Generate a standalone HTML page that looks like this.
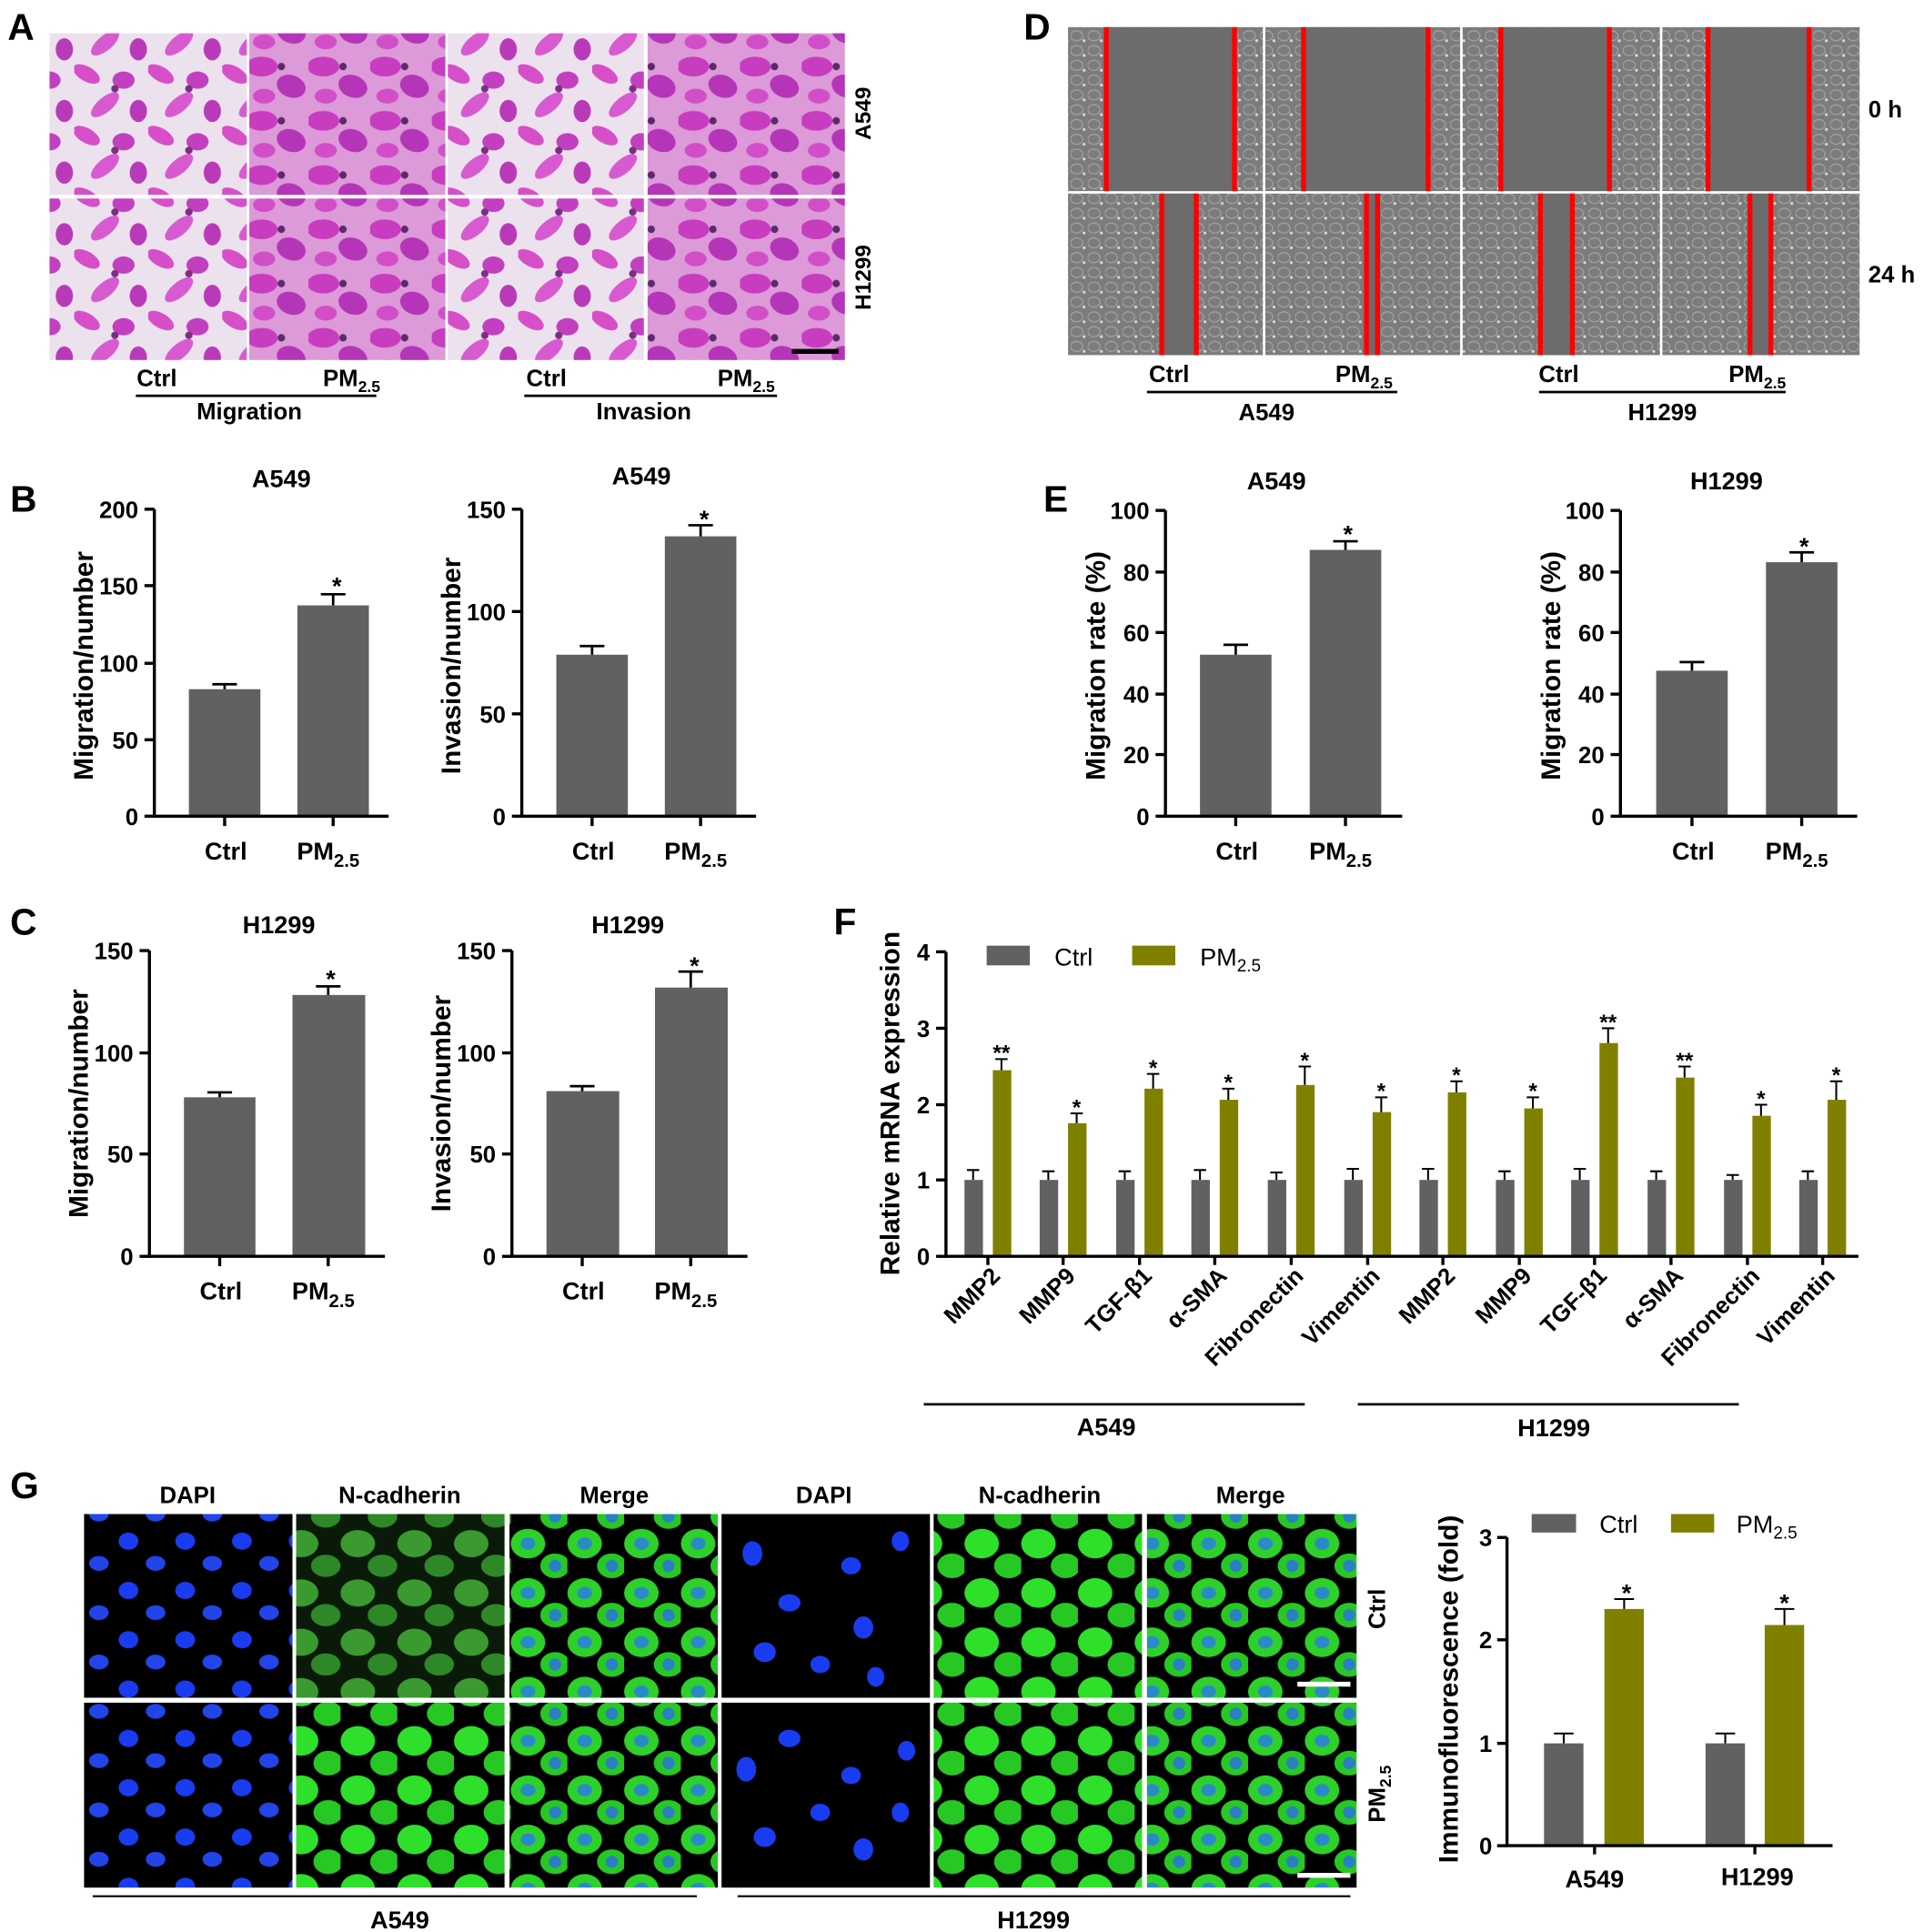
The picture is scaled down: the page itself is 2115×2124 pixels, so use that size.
<!DOCTYPE html>
<html><head><meta charset="utf-8"><style>html,body{margin:0;padding:0;background:#fff}svg{display:block}text{font-family:"Liberation Sans",Arial,sans-serif;font-weight:bold;fill:#000}</style></head><body>
<svg width="2115" height="2124" viewBox="0 0 1560 1567" xmlns="http://www.w3.org/2000/svg">
<defs>
<pattern id="pink" width="60" height="50" patternUnits="userSpaceOnUse">
<rect width="60" height="50" fill="#ece2ee"/>
<ellipse cx="10" cy="10" rx="12" ry="6" fill="#d64fc8" transform="rotate(30 10 10)"/>
<ellipse cx="40" cy="15" rx="9" ry="7" fill="#c23fbf"/>
<ellipse cx="25" cy="35" rx="14" ry="6" fill="#d85ad0" transform="rotate(-40 25 35)"/>
<ellipse cx="52" cy="40" rx="7" ry="9" fill="#b93ab8"/>
<circle cx="33" cy="22" r="3" fill="#7a3080"/>
</pattern>
<pattern id="pink2" width="50" height="44" patternUnits="userSpaceOnUse">
<rect width="50" height="44" fill="#dc9ad8"/>
<ellipse cx="12" cy="10" rx="13" ry="8" fill="#c83cc0"/>
<ellipse cx="36" cy="26" rx="12" ry="9" fill="#b535b8" transform="rotate(20 36 26)"/>
<ellipse cx="14" cy="34" rx="9" ry="6" fill="#d24ec8"/>
<circle cx="28" cy="10" r="3" fill="#5a2a6a"/>
</pattern>
<pattern id="gray" width="14" height="12" patternUnits="userSpaceOnUse">
<rect width="14" height="12" fill="#7c7c7c"/>
<ellipse cx="5" cy="5" rx="5" ry="4" fill="none" stroke="#a0a0a0" stroke-width="1"/>
<circle cx="11" cy="9" r="1.2" fill="#d8d8d8"/>
</pattern>
<pattern id="dapi" width="46" height="40" patternUnits="userSpaceOnUse">
<rect width="46" height="40" fill="#000"/>
<ellipse cx="12" cy="10" rx="8" ry="7" fill="#1a3cf0"/>
<ellipse cx="34" cy="28" rx="8" ry="6" fill="#2244e8"/>
</pattern>
<pattern id="ncad" width="46" height="40" patternUnits="userSpaceOnUse">
<rect width="46" height="40" fill="#0a1a08"/>
<ellipse cx="14" cy="12" rx="14" ry="11" fill="#3a9a30"/>
<ellipse cx="34" cy="30" rx="12" ry="9" fill="#2e8828"/>
</pattern>
<pattern id="ncadH" width="46" height="40" patternUnits="userSpaceOnUse">
<rect width="46" height="40" fill="#000"/>
<ellipse cx="14" cy="12" rx="14" ry="12" fill="#2ee02a"/>
<ellipse cx="36" cy="30" rx="12" ry="10" fill="#28c824"/>
</pattern>
<pattern id="merge" width="46" height="40" patternUnits="userSpaceOnUse">
<rect width="46" height="40" fill="#000"/>
<ellipse cx="14" cy="12" rx="14" ry="12" fill="#2ed02a"/>
<ellipse cx="14" cy="12" rx="6" ry="5" fill="#2a8ac8"/>
<ellipse cx="36" cy="30" rx="12" ry="10" fill="#28c824"/>
<ellipse cx="36" cy="30" rx="5" ry="5" fill="#2a80c0"/>
</pattern>
</defs>

<!-- Panel A -->
<text x="6" y="32" font-size="30">A</text>
<rect x="40" y="27" width="160" height="131" fill="url(#pink)"/>
<rect x="202" y="27" width="159" height="131" fill="url(#pink2)"/>
<rect x="363" y="27" width="159" height="131" fill="url(#pink)"/>
<rect x="525" y="27" width="160" height="131" fill="url(#pink2)"/>
<rect x="40" y="161" width="160" height="131" fill="url(#pink)"/>
<rect x="202" y="161" width="159" height="131" fill="url(#pink2)"/>
<rect x="363" y="161" width="159" height="131" fill="url(#pink)"/>
<rect x="525" y="161" width="160" height="131" fill="url(#pink2)"/>
<line x1="642" y1="285" x2="680" y2="285" stroke="#000" stroke-width="4"/>
<text font-size="18" transform="translate(706,92) rotate(-90)" text-anchor="middle">A549</text>
<text font-size="18" transform="translate(706,225) rotate(-90)" text-anchor="middle">H1299</text>
<text x="127" y="313" font-size="19" text-anchor="middle">Ctrl</text>
<text x="285" y="313" font-size="19" text-anchor="middle">PM<tspan font-size="13" dy="5">2.5</tspan></text>
<line x1="110" y1="321" x2="305" y2="321" stroke="#000" stroke-width="2"/>
<text x="202" y="340" font-size="19" text-anchor="middle">Migration</text>
<text x="443" y="313" font-size="19" text-anchor="middle">Ctrl</text>
<text x="605" y="313" font-size="19" text-anchor="middle">PM<tspan font-size="13" dy="5">2.5</tspan></text>
<line x1="425" y1="321" x2="630" y2="321" stroke="#000" stroke-width="2"/>
<text x="522" y="340" font-size="19" text-anchor="middle">Invasion</text>

<!-- Panel D -->
<text x="830" y="32" font-size="30">D</text>
<g>
<rect x="866" y="22" width="158" height="133" fill="url(#gray)"/>
<rect x="1026" y="22" width="158" height="133" fill="url(#gray)"/>
<rect x="1186" y="22" width="160" height="133" fill="url(#gray)"/>
<rect x="1348" y="22" width="160" height="133" fill="url(#gray)"/>
<rect x="897" y="22" width="104" height="133" fill="#6c6c6c"/>
<rect x="1057" y="22" width="101" height="133" fill="#6c6c6c"/>
<rect x="1217" y="22" width="88" height="133" fill="#6c6c6c"/>
<rect x="1385" y="22" width="82" height="133" fill="#6c6c6c"/>
<rect x="866" y="157" width="158" height="131" fill="url(#gray)"/>
<rect x="1026" y="157" width="158" height="131" fill="url(#gray)"/>
<rect x="1186" y="157" width="160" height="131" fill="url(#gray)"/>
<rect x="1348" y="157" width="160" height="131" fill="url(#gray)"/>
<rect x="942" y="157" width="28" height="131" fill="#6c6c6c"/>
<rect x="1108" y="157" width="9" height="131" fill="#6c6c6c"/>
<rect x="1249" y="157" width="26" height="131" fill="#6c6c6c"/>
<rect x="1419" y="157" width="17" height="131" fill="#6c6c6c"/>
<g stroke="#f00" stroke-width="4">
<line x1="897" y1="22" x2="897" y2="155"/><line x1="1001" y1="22" x2="1001" y2="155"/>
<line x1="1057" y1="22" x2="1057" y2="155"/><line x1="1158" y1="22" x2="1158" y2="155"/>
<line x1="1217" y1="22" x2="1217" y2="155"/><line x1="1305" y1="22" x2="1305" y2="155"/>
<line x1="1385" y1="22" x2="1385" y2="155"/><line x1="1467" y1="22" x2="1467" y2="155"/>
<line x1="942" y1="157" x2="942" y2="288"/><line x1="970" y1="157" x2="970" y2="288"/>
<line x1="1108" y1="157" x2="1108" y2="288"/><line x1="1117" y1="157" x2="1117" y2="288"/>
<line x1="1249" y1="157" x2="1249" y2="288"/><line x1="1275" y1="157" x2="1275" y2="288"/>
<line x1="1419" y1="157" x2="1419" y2="288"/><line x1="1436" y1="157" x2="1436" y2="288"/>
</g>
</g>
<text x="1515" y="95" font-size="19">0 h</text>
<text x="1515" y="229" font-size="19">24 h</text>
<text x="948" y="310" font-size="19" text-anchor="middle">Ctrl</text>
<text x="1106" y="310" font-size="19" text-anchor="middle">PM<tspan font-size="13" dy="5">2.5</tspan></text>
<line x1="930" y1="318" x2="1133" y2="318" stroke="#000" stroke-width="2"/>
<text x="1027" y="341" font-size="19" text-anchor="middle">A549</text>
<text x="1264" y="310" font-size="19" text-anchor="middle">Ctrl</text>
<text x="1425" y="310" font-size="19" text-anchor="middle">PM<tspan font-size="13" dy="5">2.5</tspan></text>
<line x1="1248" y1="318" x2="1448" y2="318" stroke="#000" stroke-width="2"/>
<text x="1348" y="341" font-size="19" text-anchor="middle">H1299</text>

<!-- Panel B -->
<text x="8" y="415" font-size="30">B</text>
<g font-size="19">
<text x="228" y="395" text-anchor="middle" font-size="20">A549</text>
<rect x="153" y="559" width="58" height="103" fill="#616161"/>
<rect x="241" y="491" width="58" height="171" fill="#616161"/>
<g stroke="#000" stroke-width="2" fill="none">
<path d="M182 559V555M172 555H192M270 491V482M260 482H280"/>
</g>
<text x="273" y="482" text-anchor="middle" font-size="20">*</text>
<g stroke="#000" stroke-width="2.5"><line x1="125" y1="413" x2="125" y2="663"/><line x1="124" y1="662" x2="315" y2="662"/>
<line x1="117" y1="413" x2="125" y2="413"/><line x1="117" y1="475" x2="125" y2="475"/><line x1="117" y1="538" x2="125" y2="538"/><line x1="117" y1="600" x2="125" y2="600"/><line x1="117" y1="662" x2="125" y2="662"/>
<line x1="182" y1="662" x2="182" y2="670"/><line x1="270" y1="662" x2="270" y2="670"/></g>
<text x="112" y="420" text-anchor="end">200</text><text x="112" y="482" text-anchor="end">150</text><text x="112" y="545" text-anchor="end">100</text><text x="112" y="607" text-anchor="end">50</text><text x="112" y="669" text-anchor="end">0</text>
<text x="183" y="697" text-anchor="middle" font-size="20">Ctrl</text>
<text x="266" y="697" text-anchor="middle" font-size="20">PM<tspan font-size="15" dy="6">2.5</tspan></text>
<text transform="translate(75,540) rotate(-90)" text-anchor="middle" font-size="22">Migration/number</text>

<text x="520" y="393" text-anchor="middle" font-size="20">A549</text>
<rect x="451" y="531" width="58" height="131" fill="#616161"/>
<rect x="539" y="435" width="58" height="227" fill="#616161"/>
<g stroke="#000" stroke-width="2" fill="none"><path d="M480 531V524M470 524H490M568 435V426M558 426H578"/></g>
<text x="571" y="428" text-anchor="middle" font-size="20">*</text>
<g stroke="#000" stroke-width="2.5"><line x1="423" y1="413" x2="423" y2="663"/><line x1="422" y1="662" x2="613" y2="662"/>
<line x1="415" y1="413" x2="423" y2="413"/><line x1="415" y1="496" x2="423" y2="496"/><line x1="415" y1="579" x2="423" y2="579"/><line x1="415" y1="662" x2="423" y2="662"/>
<line x1="480" y1="662" x2="480" y2="670"/><line x1="568" y1="662" x2="568" y2="670"/></g>
<text x="410" y="420" text-anchor="end">150</text><text x="410" y="503" text-anchor="end">100</text><text x="410" y="586" text-anchor="end">50</text><text x="410" y="669" text-anchor="end">0</text>
<text x="481" y="697" text-anchor="middle" font-size="20">Ctrl</text>
<text x="564" y="697" text-anchor="middle" font-size="20">PM<tspan font-size="15" dy="6">2.5</tspan></text>
<text transform="translate(373,540) rotate(-90)" text-anchor="middle" font-size="22">Invasion/number</text>
</g>

<!-- Panel C -->
<text x="8" y="758" font-size="30">C</text>
<g font-size="19">
<text x="226" y="757" text-anchor="middle" font-size="20">H1299</text>
<rect x="149" y="890" width="58" height="129" fill="#616161"/>
<rect x="237" y="807" width="59" height="212" fill="#616161"/>
<g stroke="#000" stroke-width="2" fill="none"><path d="M178 890V886M168 886H188M266 807V800M256 800H276"/></g>
<text x="268" y="801" text-anchor="middle" font-size="20">*</text>
<g stroke="#000" stroke-width="2.5"><line x1="121" y1="771" x2="121" y2="1020"/><line x1="120" y1="1019" x2="312" y2="1019"/>
<line x1="113" y1="771" x2="121" y2="771"/><line x1="113" y1="854" x2="121" y2="854"/><line x1="113" y1="936" x2="121" y2="936"/><line x1="113" y1="1019" x2="121" y2="1019"/>
<line x1="178" y1="1019" x2="178" y2="1027"/><line x1="266" y1="1019" x2="266" y2="1027"/></g>
<text x="108" y="778" text-anchor="end">150</text><text x="108" y="861" text-anchor="end">100</text><text x="108" y="943" text-anchor="end">50</text><text x="108" y="1026" text-anchor="end">0</text>
<text x="179" y="1054" text-anchor="middle" font-size="20">Ctrl</text>
<text x="262" y="1054" text-anchor="middle" font-size="20">PM<tspan font-size="15" dy="6">2.5</tspan></text>
<text transform="translate(71,895) rotate(-90)" text-anchor="middle" font-size="22">Migration/number</text>

<text x="509" y="757" text-anchor="middle" font-size="20">H1299</text>
<rect x="443" y="885" width="59" height="134" fill="#616161"/>
<rect x="531" y="801" width="59" height="218" fill="#616161"/>
<g stroke="#000" stroke-width="2" fill="none"><path d="M472 885V881M462 881H482M560 801V788M550 788H570"/></g>
<text x="563" y="790" text-anchor="middle" font-size="20">*</text>
<g stroke="#000" stroke-width="2.5"><line x1="415" y1="771" x2="415" y2="1020"/><line x1="414" y1="1019" x2="606" y2="1019"/>
<line x1="407" y1="771" x2="415" y2="771"/><line x1="407" y1="854" x2="415" y2="854"/><line x1="407" y1="936" x2="415" y2="936"/><line x1="407" y1="1019" x2="415" y2="1019"/>
<line x1="472" y1="1019" x2="472" y2="1027"/><line x1="560" y1="1019" x2="560" y2="1027"/></g>
<text x="402" y="778" text-anchor="end">150</text><text x="402" y="861" text-anchor="end">100</text><text x="402" y="943" text-anchor="end">50</text><text x="402" y="1026" text-anchor="end">0</text>
<text x="473" y="1054" text-anchor="middle" font-size="20">Ctrl</text>
<text x="556" y="1054" text-anchor="middle" font-size="20">PM<tspan font-size="15" dy="6">2.5</tspan></text>
<text transform="translate(365,895) rotate(-90)" text-anchor="middle" font-size="22">Invasion/number</text>
</g>

<!-- Panel E -->
<text x="846" y="415" font-size="30">E</text>
<g font-size="19">
<text x="1035" y="397" text-anchor="middle" font-size="20">A549</text>
<rect x="973" y="531" width="58" height="131" fill="#616161"/>
<rect x="1062" y="446" width="58" height="216" fill="#616161"/>
<g stroke="#000" stroke-width="2" fill="none"><path d="M1002 531V523M992 523H1012M1091 446V439M1081 439H1101"/></g>
<text x="1093" y="440" text-anchor="middle" font-size="20">*</text>
<g stroke="#000" stroke-width="2.5"><line x1="945" y1="414" x2="945" y2="663"/><line x1="944" y1="662" x2="1137" y2="662"/>
<line x1="937" y1="414" x2="945" y2="414"/><line x1="937" y1="464" x2="945" y2="464"/><line x1="937" y1="513" x2="945" y2="513"/><line x1="937" y1="563" x2="945" y2="563"/><line x1="937" y1="612" x2="945" y2="612"/><line x1="937" y1="662" x2="945" y2="662"/>
<line x1="1002" y1="662" x2="1002" y2="670"/><line x1="1091" y1="662" x2="1091" y2="670"/></g>
<text x="932" y="421" text-anchor="end">100</text><text x="932" y="471" text-anchor="end">80</text><text x="932" y="520" text-anchor="end">60</text><text x="932" y="570" text-anchor="end">40</text><text x="932" y="619" text-anchor="end">20</text><text x="932" y="669" text-anchor="end">0</text>
<text x="1003" y="697" text-anchor="middle" font-size="20">Ctrl</text>
<text x="1087" y="697" text-anchor="middle" font-size="20">PM<tspan font-size="15" dy="6">2.5</tspan></text>
<text transform="translate(896,540) rotate(-90)" text-anchor="middle" font-size="22">Migration rate (%)</text>

<text x="1400" y="397" text-anchor="middle" font-size="20">H1299</text>
<rect x="1343" y="544" width="58" height="118" fill="#616161"/>
<rect x="1432" y="456" width="58" height="206" fill="#616161"/>
<g stroke="#000" stroke-width="2" fill="none"><path d="M1372 544V537M1362 537H1382M1461 456V448M1451 448H1471"/></g>
<text x="1463" y="450" text-anchor="middle" font-size="20">*</text>
<g stroke="#000" stroke-width="2.5"><line x1="1314" y1="414" x2="1314" y2="663"/><line x1="1313" y1="662" x2="1506" y2="662"/>
<line x1="1306" y1="414" x2="1314" y2="414"/><line x1="1306" y1="464" x2="1314" y2="464"/><line x1="1306" y1="513" x2="1314" y2="513"/><line x1="1306" y1="563" x2="1314" y2="563"/><line x1="1306" y1="612" x2="1314" y2="612"/><line x1="1306" y1="662" x2="1314" y2="662"/>
<line x1="1372" y1="662" x2="1372" y2="670"/><line x1="1461" y1="662" x2="1461" y2="670"/></g>
<text x="1301" y="421" text-anchor="end">100</text><text x="1301" y="471" text-anchor="end">80</text><text x="1301" y="520" text-anchor="end">60</text><text x="1301" y="570" text-anchor="end">40</text><text x="1301" y="619" text-anchor="end">20</text><text x="1301" y="669" text-anchor="end">0</text>
<text x="1373" y="697" text-anchor="middle" font-size="20">Ctrl</text>
<text x="1457" y="697" text-anchor="middle" font-size="20">PM<tspan font-size="15" dy="6">2.5</tspan></text>
<text transform="translate(1265,540) rotate(-90)" text-anchor="middle" font-size="22">Migration rate (%)</text>
</g>

<!-- Panel F -->
<text x="676" y="758" font-size="30">F</text>
<g font-size="19">
<rect x="800" y="767" width="35" height="16" fill="#616161"/>
<text x="855" y="783" style="font-weight:normal" font-size="20">Ctrl</text>
<rect x="918" y="767" width="35" height="16" fill="#808000"/>
<text x="973" y="783" style="font-weight:normal" font-size="20">PM<tspan font-size="14" dy="5">2.5</tspan></text>
<g fill="#616161">
<rect x="782" y="957" width="15" height="62"/><rect x="843" y="957" width="15" height="62"/><rect x="905" y="957" width="15" height="62"/><rect x="966" y="957" width="15" height="62"/><rect x="1028" y="957" width="15" height="62"/><rect x="1090" y="957" width="15" height="62"/><rect x="1151" y="957" width="15" height="62"/><rect x="1213" y="957" width="15" height="62"/><rect x="1274" y="957" width="15" height="62"/><rect x="1336" y="957" width="15" height="62"/><rect x="1398" y="957" width="15" height="62"/><rect x="1459" y="957" width="15" height="62"/>
</g>
<g fill="#808000">
<rect x="805" y="868" width="15" height="151"/><rect x="866" y="911" width="15" height="108"/><rect x="928" y="883" width="15" height="136"/><rect x="989" y="892" width="15" height="127"/><rect x="1051" y="880" width="15" height="139"/><rect x="1113" y="902" width="15" height="117"/><rect x="1174" y="886" width="15" height="133"/><rect x="1236" y="899" width="15" height="120"/><rect x="1297" y="846" width="15" height="173"/><rect x="1359" y="874" width="15" height="145"/><rect x="1421" y="905" width="15" height="114"/><rect x="1482" y="892" width="15" height="127"/>
</g>
<g stroke="#000" stroke-width="1.5" fill="none">
<path d="M789 957V949M784 949H794M850 957V950M845 950H855M912 957V950M907 950H917M973 957V949M968 949H978M1035 957V951M1030 951H1040M1097 957V948M1092 948H1102M1158 957V948M1153 948H1163M1220 957V950M1215 950H1225M1281 957V948M1276 948H1286M1343 957V950M1338 950H1348M1405 957V953M1400 953H1410M1466 957V950M1461 950H1471"/>
<path d="M812 868V859M807 859H817M873 911V903M868 903H878M935 883V871M930 871H940M996 892V883M991 883H1001M1058 880V865M1053 865H1063M1120 902V890M1115 890H1125M1181 886V877M1176 877H1186M1243 899V890M1238 890H1248M1304 846V834M1299 834H1309M1366 874V865M1361 865H1371M1428 905V896M1423 896H1433M1489 892V877M1484 877H1494"/>
</g>
<g font-size="18" text-anchor="middle">
<text x="812" y="860">**</text><text x="873" y="904">*</text><text x="935" y="872">*</text><text x="996" y="884">*</text><text x="1058" y="866">*</text><text x="1120" y="891">*</text><text x="1181" y="878">*</text><text x="1243" y="891">*</text><text x="1304" y="835">**</text><text x="1366" y="866">**</text><text x="1428" y="897">*</text><text x="1489" y="878">*</text>
</g>
<g stroke="#000" stroke-width="2.5"><line x1="767" y1="772" x2="767" y2="1020"/><line x1="766" y1="1019" x2="1507" y2="1019"/>
<line x1="759" y1="772" x2="767" y2="772"/><line x1="759" y1="834" x2="767" y2="834"/><line x1="759" y1="896" x2="767" y2="896"/><line x1="759" y1="957" x2="767" y2="957"/><line x1="759" y1="1019" x2="767" y2="1019"/>
<line x1="801" y1="1019" x2="801" y2="1026"/><line x1="862" y1="1019" x2="862" y2="1026"/><line x1="924" y1="1019" x2="924" y2="1026"/><line x1="985" y1="1019" x2="985" y2="1026"/><line x1="1047" y1="1019" x2="1047" y2="1026"/><line x1="1109" y1="1019" x2="1109" y2="1026"/><line x1="1170" y1="1019" x2="1170" y2="1026"/><line x1="1232" y1="1019" x2="1232" y2="1026"/><line x1="1293" y1="1019" x2="1293" y2="1026"/><line x1="1355" y1="1019" x2="1355" y2="1026"/><line x1="1417" y1="1019" x2="1417" y2="1026"/><line x1="1478" y1="1019" x2="1478" y2="1026"/>
</g>
<text x="754" y="779" text-anchor="end">4</text><text x="754" y="841" text-anchor="end">3</text><text x="754" y="903" text-anchor="end">2</text><text x="754" y="964" text-anchor="end">1</text><text x="754" y="1026" text-anchor="end">0</text>
<g font-size="19" text-anchor="end">
<text transform="translate(812,1036) rotate(-45)">MMP2</text>
<text transform="translate(873,1036) rotate(-45)">MMP9</text>
<text transform="translate(935,1036) rotate(-45)">TGF-β1</text>
<text transform="translate(996,1036) rotate(-45)">α-SMA</text>
<text transform="translate(1058,1036) rotate(-45)">Fibronectin</text>
<text transform="translate(1120,1036) rotate(-45)">Vimentin</text>
<text transform="translate(1181,1036) rotate(-45)">MMP2</text>
<text transform="translate(1243,1036) rotate(-45)">MMP9</text>
<text transform="translate(1304,1036) rotate(-45)">TGF-β1</text>
<text transform="translate(1366,1036) rotate(-45)">α-SMA</text>
<text transform="translate(1428,1036) rotate(-45)">Fibronectin</text>
<text transform="translate(1489,1036) rotate(-45)">Vimentin</text>
</g>
<line x1="749" y1="1139" x2="1058" y2="1139" stroke="#000" stroke-width="2"/>
<text x="897" y="1164" text-anchor="middle" font-size="20">A549</text>
<line x1="1101" y1="1139" x2="1410" y2="1139" stroke="#000" stroke-width="2"/>
<text x="1260" y="1165" text-anchor="middle" font-size="20">H1299</text>
<text transform="translate(729,895) rotate(-90)" text-anchor="middle" font-size="22">Relative mRNA expression</text>
</g>

<!-- Panel G -->
<text x="8" y="1215" font-size="30">G</text>
<g font-size="19" text-anchor="middle">
<text x="152" y="1219">DAPI</text><text x="324" y="1219">N-cadherin</text><text x="498" y="1219">Merge</text>
<text x="668" y="1219">DAPI</text><text x="843" y="1219">N-cadherin</text><text x="1014" y="1219">Merge</text>
</g>
<rect x="68" y="1228" width="169" height="149" fill="url(#dapi)"/>
<rect x="240" y="1228" width="169" height="149" fill="url(#ncad)"/>
<rect x="413" y="1228" width="169" height="149" fill="url(#merge)"/>
<rect x="585" y="1228" width="169" height="149" fill="#000"/>
<g fill="#1a3cf0"><ellipse cx="610" cy="1260" rx="8" ry="10"/><ellipse cx="640" cy="1300" rx="9" ry="7"/><ellipse cx="690" cy="1270" rx="8" ry="7"/><ellipse cx="620" cy="1340" rx="9" ry="8"/><ellipse cx="700" cy="1320" rx="8" ry="9"/><ellipse cx="730" cy="1250" rx="7" ry="8"/><ellipse cx="665" cy="1350" rx="8" ry="7"/><ellipse cx="710" cy="1360" rx="7" ry="8"/></g>
<rect x="757" y="1228" width="169" height="149" fill="url(#ncadH)"/>
<rect x="930" y="1228" width="170" height="149" fill="url(#merge)"/>
<rect x="68" y="1381" width="169" height="150" fill="url(#dapi)"/>
<rect x="240" y="1381" width="169" height="150" fill="url(#ncadH)"/>
<rect x="413" y="1381" width="169" height="150" fill="url(#merge)"/>
<rect x="585" y="1381" width="169" height="150" fill="#000"/>
<g fill="#1a3cf0"><ellipse cx="605" cy="1435" rx="8" ry="10"/><ellipse cx="640" cy="1410" rx="9" ry="7"/><ellipse cx="690" cy="1440" rx="8" ry="7"/><ellipse cx="620" cy="1490" rx="9" ry="8"/><ellipse cx="700" cy="1500" rx="8" ry="9"/><ellipse cx="735" cy="1420" rx="7" ry="8"/><ellipse cx="665" cy="1470" rx="8" ry="7"/><ellipse cx="730" cy="1470" rx="7" ry="8"/></g>
<rect x="757" y="1381" width="169" height="150" fill="url(#ncadH)"/>
<rect x="930" y="1381" width="170" height="150" fill="url(#merge)"/>
<line x1="1052" y1="1366" x2="1095" y2="1366" stroke="#fff" stroke-width="4"/>
<line x1="1052" y1="1521" x2="1095" y2="1521" stroke="#fff" stroke-width="4"/>
<text font-size="19" transform="translate(1123,1305) rotate(-90)" text-anchor="middle">Ctrl</text>
<text font-size="19" transform="translate(1123,1455) rotate(-90)" text-anchor="middle">PM<tspan font-size="13" dy="5">2.5</tspan></text>
<line x1="75" y1="1538" x2="565" y2="1538" stroke="#000" stroke-width="1.5"/>
<text x="324" y="1564" font-size="20" text-anchor="middle">A549</text>
<line x1="598" y1="1538" x2="1095" y2="1538" stroke="#000" stroke-width="1.5"/>
<text x="838" y="1564" font-size="20" text-anchor="middle">H1299</text>

<g font-size="19">
<rect x="1242" y="1228" width="36" height="15" fill="#616161"/>
<text x="1297" y="1243" style="font-weight:normal" font-size="20">Ctrl</text>
<rect x="1355" y="1228" width="35" height="15" fill="#808000"/>
<text x="1408" y="1243" style="font-weight:normal" font-size="20">PM<tspan font-size="14" dy="5">2.5</tspan></text>
<rect x="1252" y="1414" width="32" height="83" fill="#616161"/>
<rect x="1301" y="1305" width="32" height="192" fill="#808000"/>
<rect x="1383" y="1414" width="32" height="83" fill="#616161"/>
<rect x="1431" y="1318" width="32" height="179" fill="#808000"/>
<g stroke="#000" stroke-width="1.5" fill="none"><path d="M1268 1414V1406M1260 1406H1276M1317 1305V1297M1309 1297H1325M1399 1414V1406M1391 1406H1407M1447 1318V1305M1439 1305H1455"/></g>
<text x="1319" y="1299" text-anchor="middle" font-size="20">*</text>
<text x="1447" y="1307" text-anchor="middle" font-size="20">*</text>
<g stroke="#000" stroke-width="2.5"><line x1="1222" y1="1247" x2="1222" y2="1498"/><line x1="1221" y1="1497" x2="1486" y2="1497"/>
<line x1="1214" y1="1247" x2="1222" y2="1247"/><line x1="1214" y1="1330" x2="1222" y2="1330"/><line x1="1214" y1="1414" x2="1222" y2="1414"/><line x1="1214" y1="1497" x2="1222" y2="1497"/>
<line x1="1293" y1="1497" x2="1293" y2="1504"/><line x1="1423" y1="1497" x2="1423" y2="1504"/></g>
<text x="1210" y="1254" text-anchor="end">3</text><text x="1210" y="1337" text-anchor="end">2</text><text x="1210" y="1421" text-anchor="end">1</text><text x="1210" y="1504" text-anchor="end">0</text>
<text x="1293" y="1531" text-anchor="middle" font-size="20">A549</text>
<text x="1425" y="1529" text-anchor="middle" font-size="20">H1299</text>
<text transform="translate(1182,1370) rotate(-90)" text-anchor="middle" font-size="22">Immunofluorescence (fold)</text>
</g>
</svg>
</body></html>
